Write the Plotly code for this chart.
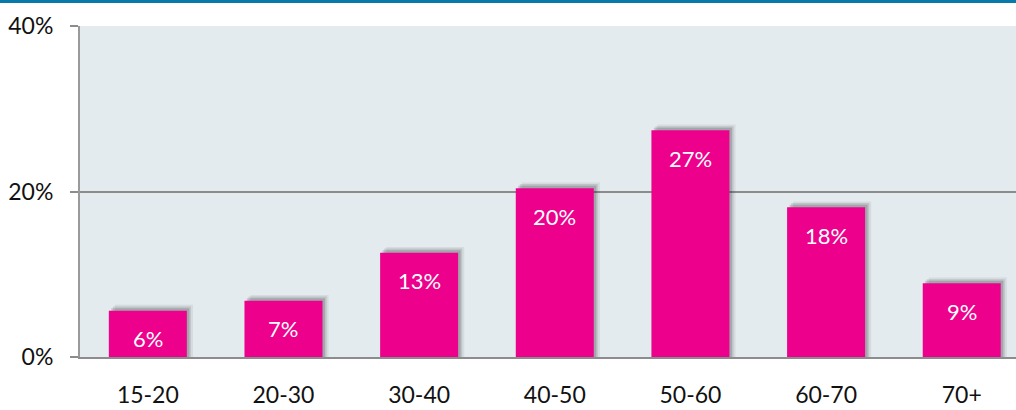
import plotly.graph_objects as go

categories = ["15-20", "20-30", "30-40", "40-50", "50-60", "60-70", "70+"]
values = [0.056, 0.068, 0.126, 0.204, 0.274, 0.181, 0.089]
y_ticks = [0, 0.2, 0.4]
y_tick_labels = ["0%", "20%", "40%"]

BAR = "#EC008C"
BG = "#E4EBEF"
GRID = "#8C8C8C"
FONT = "Lato"
BW = 0.575

fig = go.Figure()

# soft shadows
for dx, dy, a in [(0.045, 0.007, 0.08), (0.03, 0.005, 0.13), (0.018, 0.003, 0.18)]:
    fig.add_trace(go.Bar(
        x=categories, y=[v + dy for v in values],
        width=BW, offset=-BW / 2 + dx,
        marker=dict(color=f"rgba(40,40,40,{a})", line=dict(width=0)),
        hoverinfo="skip", showlegend=False,
    ))

fig.add_trace(go.Bar(
    x=categories, y=values, width=BW,
    marker=dict(color=BAR, line=dict(width=0)),
    showlegend=False,
))

for c, v in zip(categories, values):
    fig.add_annotation(
        x=c, y=v, text=f"{round(v * 100)}%", showarrow=False,
        yshift=-28, font=dict(family=FONT, size=22, color="white"),
        xref="x", yref="y",
    )

fig.add_shape(type="rect", xref="paper", yref="paper",
              x0=-0.2, x1=1.05, y0=1.0695, y1=1.09,
              fillcolor="#0879A8", line=dict(width=0), layer="above")

fig.update_layout(
    width=1016, height=410,
    margin=dict(l=80, r=0, t=26, b=53),
    paper_bgcolor="white", plot_bgcolor=BG,
    barmode="overlay", bargap=0.425,
    font=dict(family=FONT, size=23, color="#111111"),
    xaxis=dict(
        range=[-0.5, 6.4], showgrid=False, zeroline=False, automargin=False,
        showline=True, linecolor=GRID, linewidth=2,
        ticks="", ticklabelstandoff=16,
        tickfont=dict(family=FONT, size=23, color="#111111"),
    ),
    yaxis=dict(
        range=[0, 0.4], tickvals=y_ticks, ticktext=y_tick_labels,
        showgrid=True, gridcolor=GRID, gridwidth=1.5, zeroline=False,
        automargin=False,
        showline=True, linecolor="#9A9A9A", linewidth=2,
        ticks="outside", ticklen=8, tickcolor=GRID, tickwidth=1.5,
        ticklabelstandoff=12,
        tickfont=dict(family=FONT, size=23, color="#111111"),
    ),
)

fig.write_html("out.html", config={"displayModeBar": False},
               post_script="document.body.style.margin='0';")
